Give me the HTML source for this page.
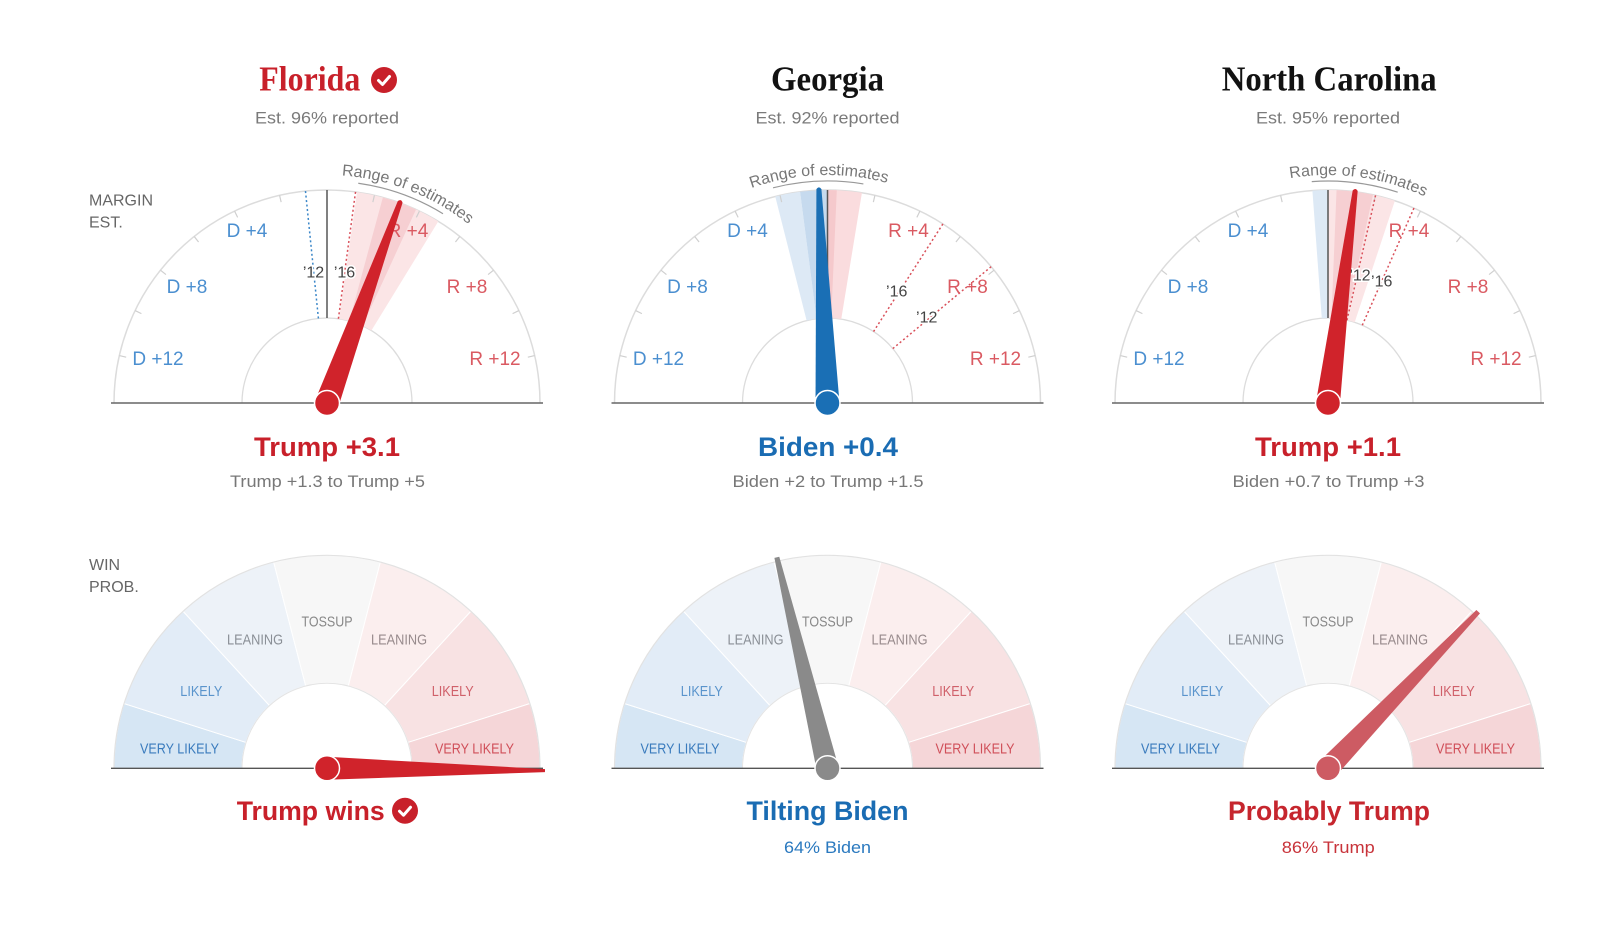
<!DOCTYPE html>
<html><head><meta charset="utf-8"><style>
html,body{margin:0;padding:0;background:#fff;}
svg{display:block;}
.sans{font-family:"Liberation Sans",Arial,sans-serif;}
.serif{font-family:"Liberation Serif","Times New Roman",serif;}
</style></head><body>
<svg width="1600" height="942" viewBox="0 0 1600 942" xmlns="http://www.w3.org/2000/svg">
<defs>
  <path id="tp" d="M -228 0 A 228 228 0 0 1 228 0" fill="none"/>
  <g id="ticks" stroke="#cfcfcf" stroke-width="1.2">
    <line x1="0" y1="-213" x2="0" y2="-206" transform="rotate(12.86)"/>
    <line x1="0" y1="-213" x2="0" y2="-206" transform="rotate(25.71)"/>
    <line x1="0" y1="-213" x2="0" y2="-206" transform="rotate(38.57)"/>
    <line x1="0" y1="-213" x2="0" y2="-206" transform="rotate(51.43)"/>
    <line x1="0" y1="-213" x2="0" y2="-206" transform="rotate(64.29)"/>
    <line x1="0" y1="-213" x2="0" y2="-206" transform="rotate(77.14)"/>
    <line x1="0" y1="-213" x2="0" y2="-206" transform="rotate(-12.86)"/>
    <line x1="0" y1="-213" x2="0" y2="-206" transform="rotate(-25.71)"/>
    <line x1="0" y1="-213" x2="0" y2="-206" transform="rotate(-38.57)"/>
    <line x1="0" y1="-213" x2="0" y2="-206" transform="rotate(-51.43)"/>
    <line x1="0" y1="-213" x2="0" y2="-206" transform="rotate(-64.29)"/>
    <line x1="0" y1="-213" x2="0" y2="-206" transform="rotate(-77.14)"/>
  </g>
  <g id="marcs" fill="none" stroke="#dcdcdc">
    <path d="M-213 0 A213 213 0 0 1 213 0" stroke-width="1.5"/>
    <path d="M-85 0 A85 85 0 0 1 85 0" stroke-width="1.3"/>
  </g>
  <g id="wseg" stroke="#ffffff" stroke-width="1">
    <path fill="#d6e6f4" d="M-85 0 L-213 0 A213 213 0 0 1 -202.93 -64.75 L-80.98 -25.84 A85 85 0 0 0 -85 0 Z"/>
    <path fill="#e2ecf7" d="M-80.98 -25.84 L-202.93 -64.75 A213 213 0 0 1 -143.90 -157.04 L-57.43 -62.67 A85 85 0 0 0 -80.98 -25.84 Z"/>
    <path fill="#edf2f8" d="M-57.43 -62.67 L-143.90 -157.04 A213 213 0 0 1 -53.34 -206.21 L-21.28 -82.29 A85 85 0 0 0 -57.43 -62.67 Z"/>
    <path fill="#f7f7f7" d="M-21.28 -82.29 L-53.34 -206.21 A213 213 0 0 1 53.34 -206.21 L21.28 -82.29 A85 85 0 0 0 -21.28 -82.29 Z"/>
    <path fill="#fbeeee" d="M21.28 -82.29 L53.34 -206.21 A213 213 0 0 1 143.90 -157.04 L57.43 -62.67 A85 85 0 0 0 21.28 -82.29 Z"/>
    <path fill="#f8e2e3" d="M57.43 -62.67 L143.90 -157.04 A213 213 0 0 1 202.93 -64.75 L80.98 -25.84 A85 85 0 0 0 57.43 -62.67 Z"/>
    <path fill="#f5d6d8" d="M80.98 -25.84 L202.93 -64.75 A213 213 0 0 1 213 0 L85 0 A85 85 0 0 0 80.98 -25.84 Z"/>
    <path fill="none" stroke="#e2e2e2" stroke-width="1.2" d="M-213 0 A213 213 0 0 1 213 0"/>
    <path fill="none" stroke="#e4e4e4" stroke-width="1" d="M-85 0 A85 85 0 0 1 85 0"/>
  </g>
</defs>

<!-- side labels -->
<g class="sans" font-size="16" fill="#666">
  <text x="89" y="205.5">MARGIN</text>
  <text x="89" y="227.5">EST.</text>
  <text x="89" y="570">WIN</text>
  <text x="89" y="592">PROB.</text>
</g>

<!-- ============ TITLES ============ -->
<g class="serif" font-weight="bold" font-size="35">
  <text x="259.3" y="90.5" fill="#c8202a" textLength="101" lengthAdjust="spacingAndGlyphs">Florida</text>
  <text x="827.5" y="90.5" fill="#121212" text-anchor="middle" textLength="113" lengthAdjust="spacingAndGlyphs">Georgia</text>
  <text x="1221.7" y="90.5" fill="#121212" textLength="215" lengthAdjust="spacingAndGlyphs">North Carolina</text>
</g>
<g transform="translate(384,80)">
  <circle r="13" fill="#c8202a"/>
  <polyline points="-5.5,0.5 -1.5,4.5 5.5,-3.5" fill="none" stroke="#fff" stroke-width="3" stroke-linecap="round" stroke-linejoin="round"/>
</g>
<g class="sans" font-size="17" fill="#7a7a7a" text-anchor="middle">
  <text x="327" y="123.3" textLength="144" lengthAdjust="spacingAndGlyphs">Est. 96% reported</text>
  <text x="827.5" y="123.3" textLength="144" lengthAdjust="spacingAndGlyphs">Est. 92% reported</text>
  <text x="1328" y="123.3" textLength="144" lengthAdjust="spacingAndGlyphs">Est. 95% reported</text>
</g>

<!-- ============ FLORIDA MARGIN ============ -->
<g transform="translate(327,403)">
  <use href="#marcs"/>
  <path fill="#fbe5e6" d="M11.98 -84.15 L30.01 -210.87 A213 213 0 0 1 111.29 -181.60 L44.41 -72.47 A85 85 0 0 0 11.98 -84.15 Z"/>
  <path fill="#f6cfd2" d="M22.29 -82.03 L55.85 -205.55 A213 213 0 0 1 89.01 -193.51 L35.52 -77.22 A85 85 0 0 0 22.29 -82.03 Z"/>
  <use href="#ticks"/>
  <line x1="-216" y1="0" x2="216" y2="0" stroke="#666" stroke-width="1.5"/>
  <line x1="0" y1="-85" x2="0" y2="-213" stroke="#555" stroke-width="1.5"/>
  <line x1="0" y1="-85" x2="0" y2="-213" transform="rotate(-5.8)" stroke="#3a86c8" stroke-width="1.5" stroke-dasharray="2 2.5"/>
  <line x1="0" y1="-85" x2="0" y2="-213" transform="rotate(7.7)" stroke="#d9505a" stroke-width="1.5" stroke-dasharray="2 2.5"/>
  <g class="sans" font-size="19" text-anchor="middle">
    <text x="-80" y="-166.2" fill="#4b8fd0">D +4</text>
    <text x="-140" y="-110.2" fill="#4b8fd0">D +8</text>
    <text x="-169" y="-38.2" fill="#4b8fd0">D +12</text>
    <text x="81" y="-166.2" fill="#da5a62">R +4</text>
    <text x="140" y="-110.2" fill="#da5a62">R +8</text>
    <text x="168" y="-38.2" fill="#da5a62">R +12</text>
  </g>
  <g class="sans" font-size="16" text-anchor="middle" fill="#444" stroke="#fff" stroke-width="3" paint-order="stroke">
    <text x="-13.5" y="-125.6">’12</text>
    <text x="17.5" y="-125.6">’16</text>
  </g>
  <path d="M31.28 -219.78 A222 222 0 0 1 116.0 -189.28" fill="none" stroke="#999" stroke-width="1.2"/>
  <text class="sans" font-size="16" fill="#777"><textPath href="#tp" startOffset="441.7" text-anchor="middle">Range of estimates</textPath></text>
  <g transform="rotate(20)">
    <path d="M-12 0 L-2.5 -214 Q0 -217.5 2.5 -214 L12 0 Z" fill="#d0232b"/>
  </g>
  <circle r="12.5" fill="#d0232b" stroke="#fff" stroke-width="1.5"/>
</g>

<!-- ============ GEORGIA MARGIN ============ -->
<g transform="translate(827.5,403)">
  <use href="#marcs"/>
  <path fill="#dde9f5" d="M-20.85 -82.40 L-52.25 -206.48 A213 213 0 0 1 -27.43 -211.23 L-10.95 -84.29 A85 85 0 0 0 -20.85 -82.40 Z"/>
  <path fill="#c6daee" d="M-10.95 -84.29 L-27.43 -211.23 A213 213 0 0 1 0 -213 L0 -85 A85 85 0 0 0 -10.95 -84.29 Z"/>
  <path fill="#fadcde" d="M0 -85 L0 -213 A213 213 0 0 1 34.42 -210.21 L13.74 -83.89 A85 85 0 0 0 0 -85 Z"/>
  <path fill="#f5c9cc" d="M0 -85 L0 -213 A213 213 0 0 1 9.29 -212.79 L3.71 -84.92 A85 85 0 0 0 0 -85 Z"/>
  <use href="#ticks"/>
  <line x1="-216" y1="0" x2="216" y2="0" stroke="#666" stroke-width="1.5"/>
  <line x1="0" y1="-85" x2="0" y2="-213" stroke="#555" stroke-width="1.5"/>
  <line x1="0" y1="-85" x2="0" y2="-213" transform="rotate(32.8)" stroke="#d9505a" stroke-width="1.5" stroke-dasharray="2 2.5"/>
  <line x1="0" y1="-85" x2="0" y2="-213" transform="rotate(50.2)" stroke="#d9505a" stroke-width="1.5" stroke-dasharray="2 2.5"/>
  <g class="sans" font-size="19" text-anchor="middle">
    <text x="-80" y="-166.2" fill="#4b8fd0">D +4</text>
    <text x="-140" y="-110.2" fill="#4b8fd0">D +8</text>
    <text x="-169" y="-38.2" fill="#4b8fd0">D +12</text>
    <text x="81" y="-166.2" fill="#da5a62">R +4</text>
    <text x="140" y="-110.2" fill="#da5a62">R +8</text>
    <text x="168" y="-38.2" fill="#da5a62">R +12</text>
  </g>
  <g class="sans" font-size="16" text-anchor="middle" fill="#444" stroke="#fff" stroke-width="3" paint-order="stroke">
    <text x="69.2" y="-106.6">’16</text>
    <text x="99.2" y="-80.6">’12</text>
  </g>
  <path d="M-54.46 -215.21 A222 222 0 0 1 35.88 -219.09" fill="none" stroke="#999" stroke-width="1.2"/>
  <text class="sans" font-size="16" fill="#777"><textPath href="#tp" startOffset="349.4" text-anchor="middle">Range of estimates</textPath></text>
  <g transform="rotate(-2.3)">
    <path d="M-12 0 L-2.5 -214 Q0 -217.5 2.5 -214 L12 0 Z" fill="#1a6fb5"/>
  </g>
  <circle r="12.5" fill="#1a6fb5" stroke="#fff" stroke-width="1.5"/>
</g>

<!-- ============ NORTH CAROLINA MARGIN ============ -->
<g transform="translate(1328,403)">
  <use href="#marcs"/>
  <path fill="#dde9f5" d="M-6.22 -84.77 L-15.59 -212.42 A213 213 0 0 1 0 -213 L0 -85 A85 85 0 0 0 -6.22 -84.77 Z"/>
  <path fill="#fbe5e6" d="M0 -85 L0 -213 A213 213 0 0 1 66.88 -202.22 L26.69 -80.70 A85 85 0 0 0 0 -85 Z"/>
  <path fill="#f6cfd2" d="M3.41 -84.93 L8.54 -212.83 A213 213 0 0 1 45.01 -208.19 L17.96 -83.08 A85 85 0 0 0 3.41 -84.93 Z"/>
  <use href="#ticks"/>
  <line x1="-216" y1="0" x2="216" y2="0" stroke="#666" stroke-width="1.5"/>
  <line x1="0" y1="-85" x2="0" y2="-213" stroke="#555" stroke-width="1.5"/>
  <line x1="0" y1="-85" x2="0" y2="-213" transform="rotate(12.9)" stroke="#d9505a" stroke-width="1.5" stroke-dasharray="2 2.5"/>
  <line x1="0" y1="-85" x2="0" y2="-213" transform="rotate(23.8)" stroke="#d9505a" stroke-width="1.5" stroke-dasharray="2 2.5"/>
  <g class="sans" font-size="19" text-anchor="middle">
    <text x="-80" y="-166.2" fill="#4b8fd0">D +4</text>
    <text x="-140" y="-110.2" fill="#4b8fd0">D +8</text>
    <text x="-169" y="-38.2" fill="#4b8fd0">D +12</text>
    <text x="81" y="-166.2" fill="#da5a62">R +4</text>
    <text x="140" y="-110.2" fill="#da5a62">R +8</text>
    <text x="168" y="-38.2" fill="#da5a62">R +12</text>
  </g>
  <g class="sans" font-size="16" text-anchor="middle" fill="#444" stroke="#fff" stroke-width="3" paint-order="stroke">
    <text x="32" y="-122.3">’12</text>
    <text x="53.7" y="-116.3">’16</text>
  </g>
  <path d="M-16.25 -221.40 A222 222 0 0 1 69.71 -210.77" fill="none" stroke="#999" stroke-width="1.2"/>
  <text class="sans" font-size="16" fill="#777"><textPath href="#tp" startOffset="388.8" text-anchor="middle">Range of estimates</textPath></text>
  <g transform="rotate(7.3)">
    <path d="M-12 0 L-2.5 -214 Q0 -217.5 2.5 -214 L12 0 Z" fill="#d0232b"/>
  </g>
  <circle r="12.5" fill="#d0232b" stroke="#fff" stroke-width="1.5"/>
</g>

<!-- margin results -->
<g class="sans" font-weight="bold" font-size="27" text-anchor="middle">
  <text x="327" y="456" fill="#c8202a" textLength="146" lengthAdjust="spacingAndGlyphs">Trump +3.1</text>
  <text x="828" y="456" fill="#1a6cb3" textLength="140" lengthAdjust="spacingAndGlyphs">Biden +0.4</text>
  <text x="1328" y="456" fill="#c8202a" textLength="146" lengthAdjust="spacingAndGlyphs">Trump +1.1</text>
</g>
<g class="sans" font-size="17" fill="#777" text-anchor="middle">
  <text x="327.5" y="487" textLength="195" lengthAdjust="spacingAndGlyphs">Trump +1.3 to Trump +5</text>
  <text x="828" y="487" textLength="191" lengthAdjust="spacingAndGlyphs">Biden +2 to Trump +1.5</text>
  <text x="1328.5" y="487" textLength="192" lengthAdjust="spacingAndGlyphs">Biden +0.7 to Trump +3</text>
</g>

<!-- ============ WIN PROB GAUGES ============ -->
<g transform="translate(327,768.3)">
  <use href="#wseg"/>
  <g class="sans" font-size="15" text-anchor="middle">
    <text x="-147.5" y="-14.6" fill="#3a7bbd" textLength="79" lengthAdjust="spacingAndGlyphs">VERY LIKELY</text>
    <text x="-125.7" y="-72.2" fill="#5a94cc" textLength="42" lengthAdjust="spacingAndGlyphs">LIKELY</text>
    <text x="-72" y="-123.6" fill="#8a8f96" textLength="56" lengthAdjust="spacingAndGlyphs">LEANING</text>
    <text x="0" y="-141.9" fill="#888" textLength="51" lengthAdjust="spacingAndGlyphs">TOSSUP</text>
    <text x="72" y="-123.6" fill="#978a8c" textLength="56" lengthAdjust="spacingAndGlyphs">LEANING</text>
    <text x="125.7" y="-72.2" fill="#d0606a" textLength="42" lengthAdjust="spacingAndGlyphs">LIKELY</text>
    <text x="147.5" y="-14.6" fill="#d04f59" textLength="79" lengthAdjust="spacingAndGlyphs">VERY LIKELY</text>
  </g>
  <line x1="-216" y1="0" x2="216" y2="0" stroke="#555" stroke-width="1.4"/>
  <g transform="rotate(90.6)">
    <path d="M-11.5 0 L-1.5 -218 L1.5 -218 L11.5 0 Z" fill="#d0232b"/>
  </g>
  <circle r="12.5" fill="#d0232b" stroke="#fff" stroke-width="1.5"/>
</g>

<g transform="translate(827.5,768.3)">
  <use href="#wseg"/>
  <g class="sans" font-size="15" text-anchor="middle">
    <text x="-147.5" y="-14.6" fill="#3a7bbd" textLength="79" lengthAdjust="spacingAndGlyphs">VERY LIKELY</text>
    <text x="-125.7" y="-72.2" fill="#5a94cc" textLength="42" lengthAdjust="spacingAndGlyphs">LIKELY</text>
    <text x="-72" y="-123.6" fill="#8a8f96" textLength="56" lengthAdjust="spacingAndGlyphs">LEANING</text>
    <text x="0" y="-141.9" fill="#888" textLength="51" lengthAdjust="spacingAndGlyphs">TOSSUP</text>
    <text x="72" y="-123.6" fill="#978a8c" textLength="56" lengthAdjust="spacingAndGlyphs">LEANING</text>
    <text x="125.7" y="-72.2" fill="#d0606a" textLength="42" lengthAdjust="spacingAndGlyphs">LIKELY</text>
    <text x="147.5" y="-14.6" fill="#d04f59" textLength="79" lengthAdjust="spacingAndGlyphs">VERY LIKELY</text>
  </g>
  <line x1="-216" y1="0" x2="216" y2="0" stroke="#555" stroke-width="1.4"/>
  <g transform="rotate(-13.5)">
    <path d="M-11 0 L-2.5 -217 L2.5 -217 L11 0 Z" fill="#8a8a8a"/>
  </g>
  <circle r="12.5" fill="#8a8a8a" stroke="#fff" stroke-width="1.5"/>
</g>

<g transform="translate(1328,768.3)">
  <use href="#wseg"/>
  <g class="sans" font-size="15" text-anchor="middle">
    <text x="-147.5" y="-14.6" fill="#3a7bbd" textLength="79" lengthAdjust="spacingAndGlyphs">VERY LIKELY</text>
    <text x="-125.7" y="-72.2" fill="#5a94cc" textLength="42" lengthAdjust="spacingAndGlyphs">LIKELY</text>
    <text x="-72" y="-123.6" fill="#8a8f96" textLength="56" lengthAdjust="spacingAndGlyphs">LEANING</text>
    <text x="0" y="-141.9" fill="#888" textLength="51" lengthAdjust="spacingAndGlyphs">TOSSUP</text>
    <text x="72" y="-123.6" fill="#978a8c" textLength="56" lengthAdjust="spacingAndGlyphs">LEANING</text>
    <text x="125.7" y="-72.2" fill="#d0606a" textLength="42" lengthAdjust="spacingAndGlyphs">LIKELY</text>
    <text x="147.5" y="-14.6" fill="#d04f59" textLength="79" lengthAdjust="spacingAndGlyphs">VERY LIKELY</text>
  </g>
  <line x1="-216" y1="0" x2="216" y2="0" stroke="#555" stroke-width="1.4"/>
  <g transform="rotate(43.8)">
    <path d="M-11 0 L-2.5 -217 L2.5 -217 L11 0 Z" fill="#cd5b63"/>
  </g>
  <circle r="12.5" fill="#cd5b63" stroke="#fff" stroke-width="1.5"/>
</g>

<!-- win prob results -->
<g class="sans" font-weight="bold" font-size="27">
  <text x="236.7" y="820" fill="#c8202a" textLength="148" lengthAdjust="spacingAndGlyphs">Trump wins</text>
  <text x="827.5" y="820" fill="#1a6cb3" text-anchor="middle" textLength="162" lengthAdjust="spacingAndGlyphs">Tilting Biden</text>
  <text x="1329" y="820" fill="#c6262e" text-anchor="middle" textLength="202" lengthAdjust="spacingAndGlyphs">Probably Trump</text>
</g>
<g transform="translate(405,810.7)">
  <circle r="13" fill="#c8202a"/>
  <polyline points="-5.5,0.5 -1.5,4.5 5.5,-3.5" fill="none" stroke="#fff" stroke-width="3" stroke-linecap="round" stroke-linejoin="round"/>
</g>
<g class="sans" font-size="17" text-anchor="middle">
  <text x="827.5" y="853" fill="#2a79bf" textLength="87" lengthAdjust="spacingAndGlyphs">64% Biden</text>
  <text x="1328.3" y="853" fill="#c8333a" textLength="93" lengthAdjust="spacingAndGlyphs">86% Trump</text>
</g>
</svg>
</body></html>
